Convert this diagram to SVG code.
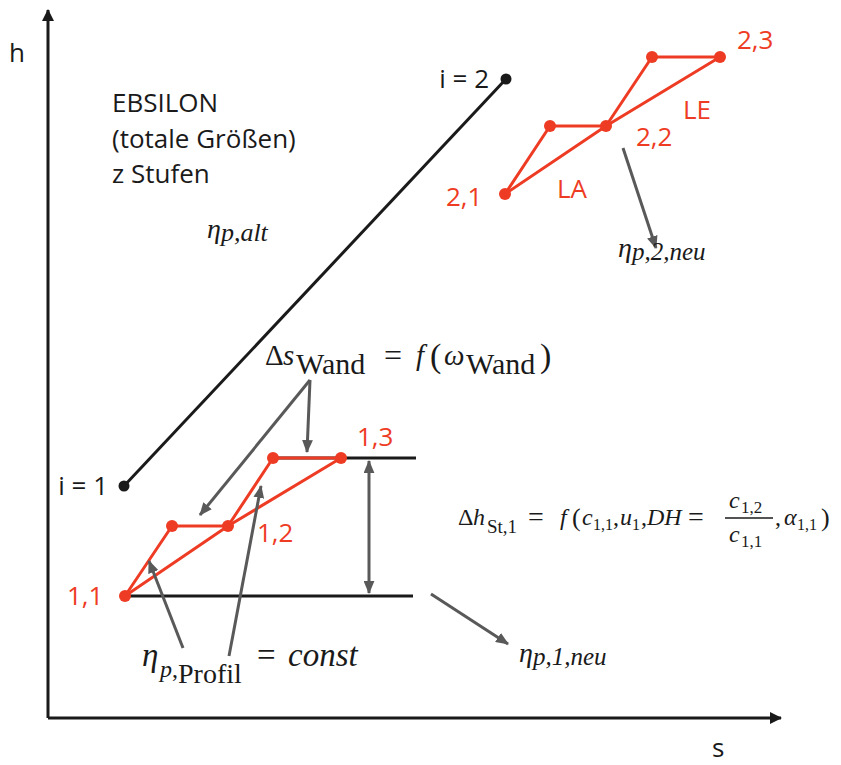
<svg xmlns="http://www.w3.org/2000/svg" width="841" height="765" viewBox="0 0 841 765">
<defs>
<marker id="ah" viewBox="0 0 12 12" refX="11" refY="6" markerWidth="12" markerHeight="12" markerUnits="userSpaceOnUse" orient="auto"><path d="M0,0 L12,6 L0,12 z" fill="#1a1a1a"/></marker>
<marker id="ga" viewBox="0 0 12 10" refX="11" refY="5" markerWidth="13" markerHeight="11" markerUnits="userSpaceOnUse" orient="auto-start-reverse"><path d="M0,0 L12,5 L0,10 z" fill="#595959"/></marker>
<style>
.ax{stroke:#1a1a1a;stroke-width:3;fill:none}
.bl{stroke:#1a1a1a;stroke-width:3;fill:none}
.rd{stroke:#ee3b24;stroke-width:3;fill:none;stroke-linejoin:round}
.gr{stroke:#595959;stroke-width:3;fill:none}
.rdot{fill:#ee3b24}
.bdot{fill:#1a1a1a}
.lab{font-family:"Open Sans","Liberation Sans",sans-serif;font-size:26px;fill:#1a1a1a}
.rl{font-family:"Open Sans","Liberation Sans",sans-serif;font-size:26px;fill:#ee3b24}
.m{font-family:"Liberation Serif","DejaVu Serif",serif;fill:#1a1a1a}
.i{font-style:italic}
</style>
</defs>
<g id="axes">
<line class="ax" x1="48" y1="718" x2="48" y2="10" marker-end="url(#ah)"/>
<line class="ax" x1="48" y1="718" x2="781" y2="718" marker-end="url(#ah)"/>
<text class="lab" x="9" y="62">h</text>
<text class="lab" x="712" y="757">s</text>
</g>
<g id="ebsilon-line">
<line class="bl" x1="124" y1="486" x2="506" y2="79"/>
<circle class="bdot" cx="124" cy="486" r="5.5"/>
<circle class="bdot" cx="506" cy="79" r="5.5"/>
<text class="lab" x="108" y="495" text-anchor="end">i = 1</text>
<text class="lab" x="489" y="88" text-anchor="end">i = 2</text>
</g>
<g id="stage1">
<line class="bl" x1="125" y1="596" x2="413" y2="596"/>
<line class="bl" x1="273" y1="458" x2="416" y2="458"/>
<polyline class="rd" points="125,596 172,526 228,526 273,458 341,458"/>
<polyline class="rd" points="125,596 228,526 341,458"/>
<circle class="rdot" cx="125" cy="596" r="6"/>
<circle class="rdot" cx="172" cy="526" r="6"/>
<circle class="rdot" cx="228" cy="526" r="6"/>
<circle class="rdot" cx="273" cy="458" r="6"/>
<circle class="rdot" cx="341" cy="458" r="6"/>
<text class="rl" x="67" y="605">1,1</text>
<text class="rl" x="257" y="542">1,2</text>
<text class="rl" x="357" y="446">1,3</text>
</g>
<g id="stage2">
<polyline class="rd" points="505,194 550,126 606,126 652,57 720,57"/>
<polyline class="rd" points="505,194 606,126 720,57"/>
<circle class="rdot" cx="505" cy="194" r="6"/>
<circle class="rdot" cx="550" cy="126" r="6"/>
<circle class="rdot" cx="606" cy="126" r="6"/>
<circle class="rdot" cx="652" cy="57" r="6"/>
<circle class="rdot" cx="720" cy="57" r="6"/>
<text class="rl" x="446" y="206">2,1</text>
<text class="rl" x="636" y="146">2,2</text>
<text class="rl" x="737" y="49">2,3</text>
<text class="rl" x="557" y="198">LA</text>
<text class="rl" x="683" y="119">LE</text>
</g>
<g id="text-ebsilon">
<text class="lab" x="112" y="112">EBSILON</text>
<text class="lab" x="112" y="148">(totale Größen)</text>
<text class="lab" x="112" y="183">z Stufen</text>
<text class="m i" x="207" y="238" font-size="28">η<tspan font-size="26" dy="3">p,alt</tspan></text>
</g>
<g id="connectors">
<line class="gr" x1="623" y1="148" x2="656" y2="248" marker-end="url(#ga)"/>
<line class="gr" x1="431" y1="594" x2="508" y2="644" marker-end="url(#ga)"/>
<line class="gr" x1="310" y1="380" x2="200" y2="515" marker-end="url(#ga)"/>
<line class="gr" x1="310" y1="380" x2="307" y2="452" marker-end="url(#ga)"/>
<line class="gr" x1="183" y1="648" x2="149" y2="561" marker-end="url(#ga)"/>
<line class="gr" x1="229" y1="656" x2="261" y2="486" marker-end="url(#ga)"/>
<line class="gr" x1="369" y1="461" x2="369" y2="593" marker-start="url(#ga)" marker-end="url(#ga)"/>
</g>
<g id="formulas">
<text class="m" font-size="29"><tspan x="265" y="365">Δ</tspan><tspan class="i" x="283">s</tspan><tspan x="296" y="374" font-size="30">Wand</tspan><tspan x="384" y="366" font-size="32">=</tspan><tspan class="i" x="416" y="365">f</tspan><tspan x="430" y="367" font-size="34">(</tspan><tspan class="i" x="444" y="365">ω</tspan><tspan x="466" y="374" font-size="30">Wand</tspan><tspan x="540" y="367" font-size="34">)</tspan></text>
<text class="m" font-size="24"><tspan x="458" y="525">Δ</tspan><tspan class="i" x="473">h</tspan><tspan x="487" y="533" font-size="19">St,1</tspan><tspan x="528" y="526" font-size="28">=</tspan><tspan class="i" x="560" y="525">f</tspan><tspan x="572" y="526" font-size="26">(</tspan><tspan class="i" x="582" y="525">c</tspan><tspan x="593" y="530" font-size="16">1,1</tspan><tspan x="613" y="525">,</tspan><tspan class="i" x="620">u</tspan><tspan x="632" y="530" font-size="16">1</tspan><tspan x="641" y="525">,</tspan><tspan class="i" x="647">DH</tspan><tspan x="688" y="526" font-size="28">=</tspan><tspan class="i" x="729" y="508">c</tspan><tspan x="741" y="513" font-size="17">1,2</tspan><tspan class="i" x="729" y="542">c</tspan><tspan x="741" y="547" font-size="17">1,1</tspan><tspan x="775" y="525">,</tspan><tspan class="i" x="784">α</tspan><tspan x="797" y="530" font-size="16">1,1</tspan><tspan x="821" y="526" font-size="26">)</tspan></text>
<line x1="725" y1="518" x2="773" y2="518" stroke="#1a1a1a" stroke-width="1.5"/>
<text class="m" font-size="33"><tspan class="i" x="142" y="666">η</tspan><tspan class="i" x="160" y="677" font-size="24">p</tspan><tspan y="677" font-size="24">,</tspan><tspan x="178" y="683" font-size="28">Profil</tspan><tspan x="257" y="666">=</tspan><tspan class="i" x="288">const</tspan></text>
<text class="m i" x="519" y="662" font-size="28">η<tspan font-size="25" dy="3">p,1,neu</tspan></text>
<text class="m i" x="618" y="257" font-size="28">η<tspan font-size="25" dy="3">p,2,neu</tspan></text>
</g>
</svg>
